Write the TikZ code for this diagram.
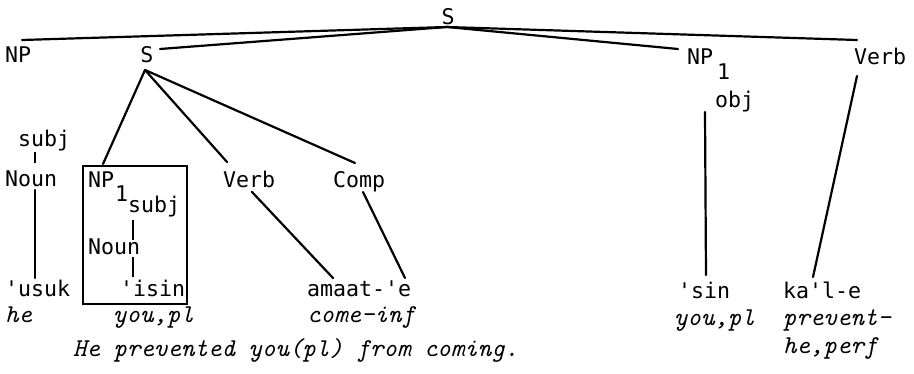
\documentclass[tikz,border=0pt]{standalone}
\usepackage{fontspec}
\newfontfamily\tw{DejaVu Sans Mono}[Ligatures=TeXOff]
\begin{document}
\begin{tikzpicture}[x=1pt,y=-1pt,
  lab/.style={inner sep=0pt,anchor=base west,font=\tw\fontsize{21.6}{24}\selectfont},
  gl/.style={inner sep=0pt,anchor=base west,font=\ttfamily\itshape\fontsize{25.7}{28}\selectfont},
  br/.style={line width=2.2pt,line cap=round},
  tk/.style={line width=1.4pt},
  boxst/.style={draw,line width=2pt,inner sep=0pt}]
\useasboundingbox (0,0) rectangle (914,374);
% top level
\node[lab,anchor=base] (Stop) at (448,25) {S};
\node[lab] (NPl) at (5,63) {NP};
\node[lab,anchor=base] (Smid) at (147,63) {S};
\node[lab] (NPr) at (687,65) {NP};
\node[lab] (NPrsub) at (717,80) {1};
\node[lab] (obj) at (715,108) {obj};
\node[lab] (Verbr) at (854,65) {Verb};
\coordinate (apex) at (447,27);
\coordinate (eNP) at (22,40);
\coordinate (eS) at (160,49);
\coordinate (eNPr) at (678,49);
\coordinate (eVr) at (857,40);
\draw[br] (apex) -- (eNP);
\draw[br] (apex) -- (eS);
\draw[br] (apex) -- (eNPr);
\draw[br] (apex) -- (eVr);
% left NP
\node[lab] (subjl) at (18,147) {subj};
\node[lab] (Nounl) at (5,187) {Noun};
\node[lab] (usuk) at (5,297) {'usuk};
\node[gl] (he) at (5,323) {he};
\coordinate (t1a) at (35,152); \coordinate (t1b) at (35,163);
\draw[tk] (t1a) -- (t1b);
\coordinate (n1a) at (35,190); \coordinate (n1b) at (35,278);
\draw[br] (n1a) -- (n1b);
% embedded S
\coordinate (sb) at (145,70);
\node[boxst,minimum width=104pt,minimum height=138pt,anchor=north west] (box) at (82,165) {};
\node[lab] (NPb) at (88,188) {NP};
\node[lab] (NPbsub) at (115,202) {1};
\node[lab] (subjb) at (128,213) {subj};
\node[lab] (Nounb) at (88,255) {Noun};
\node[lab] (isin) at (120,297) {'isin};
\node[gl] (youpl1) at (113,323) {you,pl};
\coordinate (bt1a) at (133,220); \coordinate (bt1b) at (133,240);
\coordinate (bt2a) at (133,257); \coordinate (bt2b) at (133,277);
\draw[tk] (bt1a) -- (bt1b);
\draw[tk] (bt2a) -- (bt2b);
\node[lab] (Verbm) at (223,188) {Verb};
\node[lab] (Comp) at (333,188) {Comp};
\node[lab] (amaat) at (307,297) {amaat-'e};
\node[gl] (comeinf) at (307,323) {come-inf};
\coordinate (eBox) at (103,164);
\coordinate (eVm) at (227,162);
\coordinate (eComp) at (355,163);
\draw[br] (sb) -- (eBox);
\draw[br] (sb) -- (eVm);
\draw[br] (sb) -- (eComp);
\coordinate (vma) at (252,192); \coordinate (vmb) at (333,278);
\draw[br] (vma) -- (vmb);
\coordinate (cpa) at (363,192); \coordinate (cpb) at (405,278);
\draw[br] (cpa) -- (cpb);
% right side
\node[lab] (sin) at (678,299) {'sin};
\node[gl] (youpl2) at (674,326) {you,pl};
\node[lab] (kale) at (783,299) {ka'l-e};
\node[gl] (prev) at (783,326) {prevent-};
\node[gl] (heperf) at (783,354) {he,perf};
\coordinate (oa) at (705,112); \coordinate (ob) at (706,275);
\draw[br] (oa) -- (ob);
\coordinate (va) at (857,76); \coordinate (vb) at (813,277);
\draw[br] (va) -- (vb);
% caption
\node[gl] (cap) at (73,357) {He prevented you(pl) from coming.};
\end{tikzpicture}
\end{document}
